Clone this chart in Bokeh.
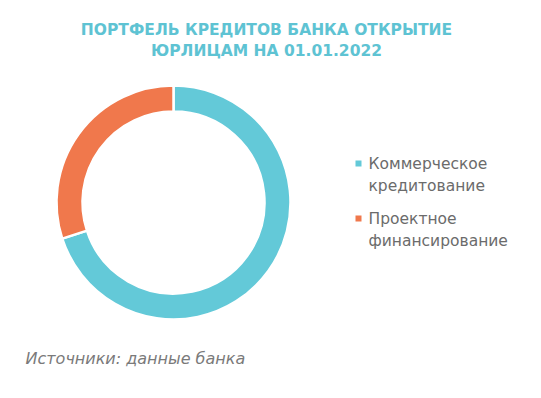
from bokeh.plotting import figure
from bokeh.models import Range1d, ColumnDataSource
from bokeh.core.properties import value
from bokeh.embed import file_html
from bokeh.resources import INLINE
import math

# ---- data ----
categories = ["Коммерческое\nкредитование", "Проектное\nфинансирование"]
shares = [70, 30]
colors = ["#63C9D8", "#F0784C"]
title_lines = ["ПОРТФЕЛЬ КРЕДИТОВ БАНКА ОТКРЫТИЕ", "ЮРЛИЦАМ НА 01.01.2022"]
source_note = "Источники: данные банка"

W, H = 530, 390
p = figure(width=W, height=H, output_backend="svg", toolbar_location=None,
           x_range=Range1d(0, W), y_range=Range1d(0, H), min_border=0,
           outline_line_color=None)
p.axis.visible = False
p.grid.visible = False
p.background_fill_color = "white"
p.border_fill_color = "white"

def sx(x):
    return x

def sy(y):
    return H - y

# donut
total = sum(shares)
starts, ends = [], []
acc = 0.0
for v in shares:
    starts.append(math.radians(90 - 360 * acc / total))
    acc += v
    ends.append(math.radians(90 - 360 * acc / total))
src = ColumnDataSource(dict(start=starts, end=ends, color=colors))
cx, cy = sx(173), sy(202)
p.annular_wedge(x=cx, y=cy, inner_radius=91, outer_radius=117,
                start_angle="start", end_angle="end", direction="clock",
                fill_color="color", line_color="white", line_width=2.5, source=src)

# title
p.text(x=[sx(266)] * len(title_lines), y=[sy(29), sy(50)], text=title_lines,
       text_align="center", text_baseline="middle",
       text_font=value("DejaVu Sans"), text_font_style="bold",
       text_font_size="15.5px", text_color="#5EC3D3")

# legend
ly = [163, 218]
for i, (lab, col) in enumerate(zip(categories, colors)):
    p.scatter(x=[sx(358)], y=[sy(ly[i])], marker="square", size=6,
              fill_color=col, line_color=None)
    lines = lab.split("\n")
    p.text(x=[sx(368)] * len(lines), y=[sy(ly[i] + 22 * k) for k in range(len(lines))],
           text=lines, text_align="left", text_baseline="middle",
           text_font=value("DejaVu Sans"), text_font_size="15.5px", text_color="#6B6B6B")

# source note
p.text(x=[sx(25)], y=[sy(358)], text=[source_note], text_align="left",
       text_baseline="middle", text_font=value("DejaVu Sans"),
       text_font_style="italic", text_font_size="16px", text_color="#7A7A7A")

open("out.html", "w").write(file_html(p, INLINE))
